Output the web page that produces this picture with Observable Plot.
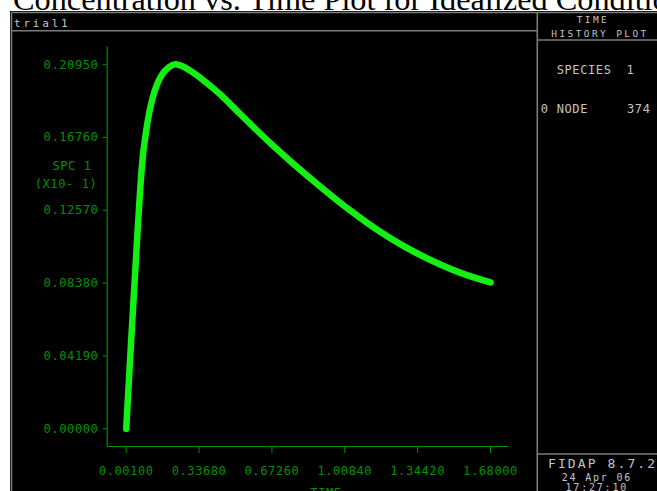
<!DOCTYPE html>
<html>
<head>
<meta charset="utf-8">
<script src="https://cdn.jsdelivr.net/npm/d3@7"></script>
<script src="https://cdn.jsdelivr.net/npm/@observablehq/plot@0.6"></script>
<style>
  html, body { margin: 0; padding: 0; background: #fff; width: 657px; height: 491px; overflow: hidden; }
  #title { position: absolute; left: 13px; top: -17px; font-family: "Liberation Serif", "Times New Roman", serif; font-size: 32.3px; line-height: 32.3px; white-space: nowrap; color: #000; }
  #chart { position: absolute; left: 10px; top: 11px; }
</style>
</head>
<body>
<div id="title">Concentration vs. Time Plot for Idealized Conditions</div>
<div id="chart"></div>
<script>
// Time values (x) and species 1 concentration (y)
const time = [0.0010, 0.0070, 0.0139, 0.0208, 0.0277, 0.0346, 0.0439, 0.0531, 0.0623, 0.0715,
              0.0807, 0.0900, 0.1015, 0.1153, 0.1314, 0.1499, 0.1729, 0.1960, 0.2236, 0.2651,
              0.3112, 0.3665, 0.4356, 0.5047, 0.5739, 0.6753, 0.7721, 0.8965, 1.0348, 1.1731,
              1.2883, 1.4035, 1.5418, 1.6801];
const spc  = [0.0000, 0.0134, 0.0289, 0.0439, 0.0589, 0.0738, 0.0934, 0.1130, 0.1314, 0.1481,
              0.1602, 0.1688, 0.1780, 0.1866, 0.1941, 0.2002, 0.2051, 0.2079, 0.2097, 0.2084,
              0.2048, 0.1996, 0.1923, 0.1838, 0.1753, 0.1632, 0.1524, 0.1393, 0.1255, 0.1132,
              0.1045, 0.0971, 0.0897, 0.0842];
const xTicks = [0.00100, 0.33680, 0.67260, 1.00840, 1.34420, 1.68000];
const yTicks = [0.00000, 0.04190, 0.08380, 0.12570, 0.16760, 0.20950];
const xDomain = [-0.0866, 1.7644];
const yDomain = [-0.0102, 0.2196];

const data = time.map((t, i) => ({t, v: spc[i]}));
const axisGreen = "#009000";
const curveGreen = "#14f014";

const plot = Plot.plot({
  width: 647,
  height: 480,
  marginLeft: 96.7,
  marginRight: 148.7,
  marginTop: 35.7,
  marginBottom: 45,
  style: {
    background: "#000",
    color: axisGreen,
    fontFamily: "'DejaVu Sans Mono', monospace",
    fontSize: "12px",
    letterSpacing: "0.6px",
    overflow: "hidden"
  },
  x: {domain: xDomain, ticks: xTicks, tickFormat: d => d.toFixed(5), tickSize: 7, tickPadding: 13, label: null},
  y: {domain: yDomain, ticks: yTicks, tickFormat: d => d.toFixed(5), tickSize: 4, tickPadding: 4.8, label: null},
  marks: [
    Plot.ruleX([xDomain[0]], {stroke: axisGreen, strokeWidth: 1.2}),
    Plot.ruleY([yDomain[0]], {stroke: axisGreen, strokeWidth: 1.2}),
    Plot.line(data, {x: "t", y: "v", stroke: curveGreen, strokeWidth: 6.5, strokeLinecap: "round", strokeLinejoin: "round", curve: "catmull-rom"})
  ]
});
document.getElementById("chart").appendChild(plot);

// Frame decoration (panel borders and annotation text)
const svg = d3.select(plot);
const gray = "#7c7c7c";
const light = "#c4c4c4";
const g = svg.append("g");
const lines = [
  [1.5, 1.5, 1.5, 480],
  [1.5, 1.5, 647, 1.5],
  [1.5, 19.7, 527.3, 19.7],
  [527.3, 1.5, 527.3, 480],
  [527.3, 29, 647, 29],
  [527.3, 443, 647, 443]
];
lines.forEach(([x1, y1, x2, y2]) => g.append("line")
  .attr("x1", x1).attr("y1", y1).attr("x2", x2).attr("y2", y2)
  .attr("stroke", gray).attr("stroke-width", 1.6));

function txt(s, x, y, opts = {}) {
  g.append("text").text(s).attr("x", x).attr("y", y)
    .attr("fill", opts.fill || light)
    .attr("text-anchor", opts.anchor || "start")
    .style("font-size", (opts.size || 12) + "px")
    .style("letter-spacing", (opts.ls ?? 0.6) + "px")
    .style("font-family", "'DejaVu Sans Mono', monospace");
}
txt("trial1", 4, 16, {size: 11, ls: 2.8});
txt("TIME", 583, 12.2, {anchor: "middle", size: 9.5, ls: 2.4});
txt("HISTORY PLOT", 590, 25.5, {anchor: "middle", size: 9.5, ls: 2.4});
txt("SPECIES", 546.7, 62.7);
txt("1", 616.5, 62.7);
txt("0", 530.7, 101.7);
txt("NODE", 546.7, 101.7);
txt("374", 617, 101.7);
txt("FIDAP 8.7.2", 538, 456.5, {size: 13, ls: 2.1});
txt("24 Apr 06", 551.7, 469.5, {size: 10, ls: 1.8});
txt("17:27:10", 555.5, 480.2, {size: 10, ls: 1.8});
txt("SPC 1", 62, 159.4, {anchor: "middle", fill: axisGreen});
txt("(X10- 1)", 56, 177.4, {anchor: "middle", fill: axisGreen});
txt("TIME", 316, 485.5, {anchor: "middle", fill: axisGreen});
</script>
</body>
</html>
